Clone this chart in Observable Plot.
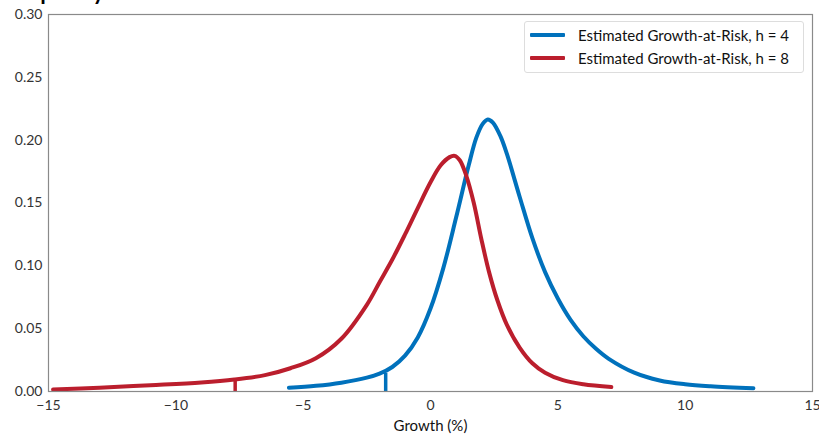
<!DOCTYPE html>
<html>
<head>
<meta charset="utf-8">
<script src="https://cdn.jsdelivr.net/npm/d3@7"></script>
<script src="https://cdn.jsdelivr.net/npm/@observablehq/plot@0.6"></script>
<style>
  html, body { margin: 0; padding: 0; background: #fff; overflow: hidden; }
  #wrap { position: relative; width: 819px; height: 440px; font-family: Lato, "Open Sans", sans-serif; }
  #title { position: absolute; left: 2px; top: -22px; font-size: 22px; font-weight: bold; color: #000; }
  #legend { position: absolute; left: 524px; top: 21px; width: 280px; height: 52px; border: 1px solid #ddd; border-radius: 3px; background: #fff; box-sizing: border-box; }
  .row { position: absolute; left: 0; height: 20px; display: flex; align-items: center; }
  .sw { width: 35px; height: 4px; margin-left: 5px; margin-right: 13px; border-radius: 1px; }
  .lab { font-size: 15px; color: #111; white-space: nowrap; }
</style>
</head>
<body>
<div id="wrap"></div>
<script>
const titleText = "Frequency";
const xLabel = "Growth (%)";
const seriesNames = ["Estimated Growth-at-Risk, h = 4", "Estimated Growth-at-Risk, h = 8"];
const seriesColors = ["#0071bc", "#bb1e2d"];

const blueX = [-5.56, -4.5, -3.5, -2.5, -2.0, -1.5, -1.0, -0.5, 0, 0.5, 1.0, 1.5, 1.8, 2.05, 2.25, 2.45, 2.75, 3.0, 3.5, 4.0, 4.5, 5.0, 5.5, 6.0, 6.5, 7.0, 8.0, 9.0, 10.0, 11.0, 12.68];
const blueY = [0.0030, 0.0045, 0.0070, 0.0110, 0.0142, 0.0195, 0.0285, 0.043, 0.066, 0.098, 0.138, 0.180, 0.202, 0.213, 0.2165, 0.214, 0.203, 0.189, 0.155, 0.122, 0.095, 0.074, 0.057, 0.044, 0.034, 0.026, 0.0150, 0.0088, 0.0058, 0.0042, 0.0026];

const redX = [-14.82, -13, -11, -9, -7.7, -6.5, -5.5, -4.5, -3.5, -2.5, -2.0, -1.5, -1.0, -0.5, 0, 0.4, 0.75, 0.95, 1.15, 1.4, 1.7, 2.0, 2.3, 2.62, 3.0, 3.5, 4.0, 4.5, 5.2, 6.0, 7.1];
const redY = [0.0015, 0.0030, 0.0050, 0.0072, 0.0095, 0.0130, 0.0185, 0.0265, 0.042, 0.069, 0.087, 0.105, 0.125, 0.146, 0.1665, 0.180, 0.1865, 0.1875, 0.184, 0.172, 0.150, 0.121, 0.095, 0.073, 0.053, 0.035, 0.0225, 0.015, 0.0090, 0.0058, 0.0036];

// Growth-at-Risk markers (5th percentile)
const garX = [-1.76, -7.67];
const garY = [0.0146, 0.0096];

const xTicks = [-15, -10, -5, 0, 5, 10, 15];
const yTicks = [0, 0.05, 0.10, 0.15, 0.20, 0.25, 0.30];

const blue = blueX.map((x, i) => ({x, y: blueY[i]}));
const red = redX.map((x, i) => ({x, y: redY[i]}));
const gar = garX.map((x, i) => ({x, y: garY[i], c: seriesColors[i]}));

const chart = Plot.plot({
  width: 819,
  height: 440,
  marginLeft: 48,
  marginRight: 7,
  marginTop: 14,
  marginBottom: 49,
  style: { fontFamily: "Lato, 'Open Sans', sans-serif", fontSize: "14px", color: "#333", background: "#fff" },
  x: { domain: [-15, 15], ticks: xTicks, tickSize: 0, tickPadding: 9, label: null },
  y: { domain: [0, 0.30], ticks: yTicks, tickSize: 0, tickPadding: 6, tickFormat: d3.format(".2f"), label: null },
  marks: [
    Plot.line(blue, {x: "x", y: "y", stroke: seriesColors[0], strokeWidth: 4, curve: "catmull-rom"}),
    Plot.line(red, {x: "x", y: "y", stroke: seriesColors[1], strokeWidth: 4, curve: "catmull-rom"}),
    Plot.ruleX(gar, {x: "x", y1: 0, y2: "y", stroke: "c", strokeWidth: 3.5}),
    Plot.frame({stroke: "#8a8a8a", strokeWidth: 1.2}),
    Plot.text([xLabel], {frameAnchor: "bottom", dy: 39, text: d => d, fontSize: 15, fill: "#111"})
  ]
});

const wrap = document.getElementById("wrap");
wrap.appendChild(chart);

const t = document.createElement("div");
t.id = "title";
t.textContent = titleText;
wrap.appendChild(t);

const lg = document.createElement("div");
lg.id = "legend";
seriesNames.forEach((name, i) => {
  const r = document.createElement("div");
  r.className = "row";
  r.style.top = (3 + i * 23) + "px";
  const sw = document.createElement("div");
  sw.className = "sw";
  sw.style.background = seriesColors[i];
  const lb = document.createElement("span");
  lb.className = "lab";
  lb.textContent = name;
  r.appendChild(sw); r.appendChild(lb);
  lg.appendChild(r);
});
wrap.appendChild(lg);
</script>
</body>
</html>
